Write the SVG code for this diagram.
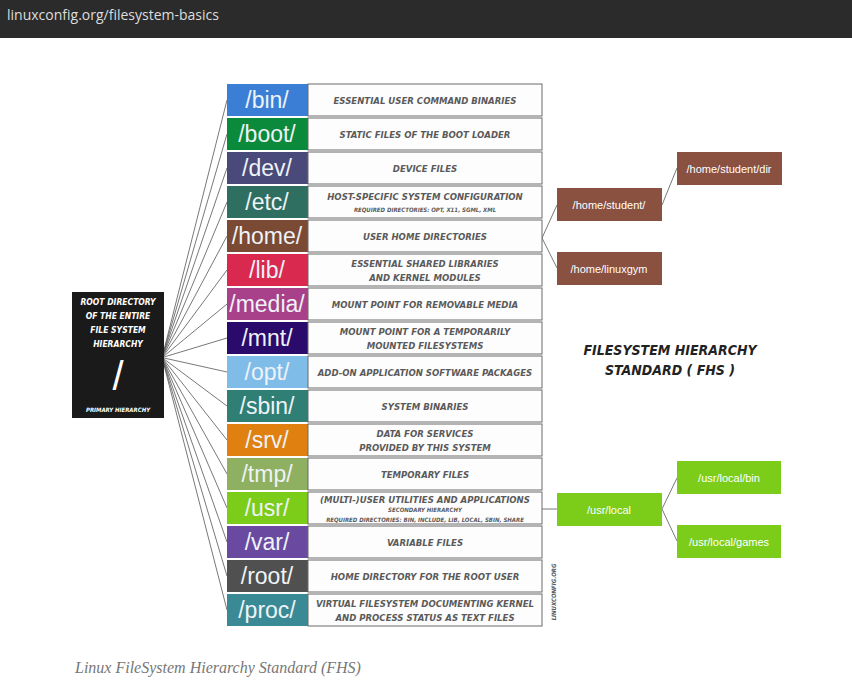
<svg xmlns="http://www.w3.org/2000/svg" width="852" height="697" viewBox="0 0 852 697">
<style>
.dn{font-family:"Liberation Sans",Arial,sans-serif;font-size:23px;fill:#eef3f8;text-anchor:middle}
.ds{font-family:"DejaVu Sans Condensed","Liberation Sans",sans-serif;font-weight:bold;font-style:italic;font-size:9.5px;fill:#5a5a5a;text-anchor:middle}
.sm{font-family:"DejaVu Sans Condensed","Liberation Sans",sans-serif;font-weight:bold;font-style:italic;font-size:6px;fill:#5a5a5a;text-anchor:middle}
.desc{fill:#fdfdfd;stroke:#6a6a6a;stroke-width:1}
.bx{font-family:"Liberation Sans",Arial,sans-serif;font-size:11px;fill:#fff;text-anchor:middle}
.cn line{stroke:#555;stroke-width:0.8}
.wt{font-family:"DejaVu Sans Condensed","Liberation Sans",sans-serif;font-weight:bold;font-style:italic;fill:#fff;text-anchor:middle}
</style>
<rect width="852" height="697" fill="#fff"/>
<rect width="852" height="38" fill="#2b2b2b"/>
<text x="7" y="20" font-family="Open Sans,Liberation Sans,sans-serif" font-size="14" fill="#ddd">linuxconfig.org/filesystem-basics</text>
<g class="cn">
<line x1="164" y1="350" x2="227" y2="100"/><line x1="164" y1="351" x2="227" y2="134"/><line x1="164" y1="352" x2="227" y2="168"/><line x1="164" y1="353" x2="227" y2="202"/><line x1="164" y1="354" x2="227" y2="236"/><line x1="164" y1="355" x2="227" y2="270"/><line x1="164" y1="356" x2="227" y2="304"/><line x1="164" y1="357" x2="227" y2="338"/><line x1="164" y1="358" x2="227" y2="372"/><line x1="164" y1="359" x2="227" y2="406"/><line x1="164" y1="360" x2="227" y2="440"/><line x1="164" y1="361" x2="227" y2="474"/><line x1="164" y1="362" x2="227" y2="508"/><line x1="164" y1="363" x2="227" y2="542"/><line x1="164" y1="364" x2="227" y2="576"/><line x1="164" y1="365" x2="227" y2="610"/>
<line x1="542" y1="238" x2="557" y2="205"/><line x1="542" y1="238" x2="557" y2="268"/><line x1="662" y1="205" x2="677" y2="168"/>
<line x1="542" y1="509" x2="557" y2="509"/><line x1="662" y1="509" x2="677" y2="478"/><line x1="662" y1="509" x2="677" y2="541"/>
</g>
<g id="root"><rect x="72" y="292" width="92" height="126" fill="#1a1a1a"/>
<text class="wt" font-size="8.5"><tspan x="118" y="305">ROOT DIRECTORY</tspan><tspan x="118" y="319">OF THE ENTIRE</tspan><tspan x="118" y="333">FILE SYSTEM</tspan><tspan x="118" y="347">HIERARCHY</tspan></text>
<text x="118" y="390" font-family="Liberation Sans,sans-serif" font-size="40" fill="#fff" text-anchor="middle">/</text>
<text class="wt" font-size="6" x="118" y="412">PRIMARY HIERARCHY</text></g>
<g id="bin"><rect x="227" y="84" width="81" height="32" fill="#3a7fd5"/><rect class="desc" x="308" y="84" width="234" height="32"/><text class="dn" x="267" y="108">/bin/</text><text class="ds" x="425" y="104">ESSENTIAL USER COMMAND BINARIES</text></g>
<g id="boot"><rect x="227" y="118" width="81" height="32" fill="#0a8a3a"/><rect class="desc" x="308" y="118" width="234" height="32"/><text class="dn" x="267" y="142">/boot/</text><text class="ds" x="425" y="138">STATIC FILES OF THE BOOT LOADER</text></g>
<g id="dev"><rect x="227" y="152" width="81" height="32" fill="#4a4a7a"/><rect class="desc" x="308" y="152" width="234" height="32"/><text class="dn" x="267" y="176">/dev/</text><text class="ds" x="425" y="172">DEVICE FILES</text></g>
<g id="etc"><rect x="227" y="186" width="81" height="32" fill="#2f6f62"/><rect class="desc" x="308" y="186" width="234" height="32"/><text class="dn" x="267" y="210">/etc/</text><text class="ds" x="425" y="200">HOST-SPECIFIC SYSTEM CONFIGURATION</text><text class="sm" x="425" y="212">REQUIRED DIRECTORIES: OPT, X11, SGML, XML</text></g>
<g id="home"><rect x="227" y="220" width="81" height="32" fill="#7a4a34"/><rect class="desc" x="308" y="220" width="234" height="32"/><text class="dn" x="267" y="244">/home/</text><text class="ds" x="425" y="240">USER HOME DIRECTORIES</text></g>
<g id="lib"><rect x="227" y="254" width="81" height="32" fill="#d9294f"/><rect class="desc" x="308" y="254" width="234" height="32"/><text class="dn" x="267" y="278">/lib/</text><text class="ds" x="425" y="267">ESSENTIAL SHARED LIBRARIES</text><text class="ds" x="425" y="281">AND KERNEL MODULES</text></g>
<g id="media"><rect x="227" y="288" width="81" height="32" fill="#a8408a"/><rect class="desc" x="308" y="288" width="234" height="32"/><text class="dn" x="267" y="312">/media/</text><text class="ds" x="425" y="308">MOUNT POINT FOR REMOVABLE MEDIA</text></g>
<g id="mnt"><rect x="227" y="322" width="81" height="32" fill="#2a0a6a"/><rect class="desc" x="308" y="322" width="234" height="32"/><text class="dn" x="267" y="346">/mnt/</text><text class="ds" x="425" y="335">MOUNT POINT FOR A TEMPORARILY</text><text class="ds" x="425" y="349">MOUNTED FILESYSTEMS</text></g>
<g id="opt"><rect x="227" y="356" width="81" height="32" fill="#7fbce8"/><rect class="desc" x="308" y="356" width="234" height="32"/><text class="dn" x="267" y="380">/opt/</text><text class="ds" x="425" y="376">ADD-ON APPLICATION SOFTWARE PACKAGES</text></g>
<g id="sbin"><rect x="227" y="390" width="81" height="32" fill="#2f7f75"/><rect class="desc" x="308" y="390" width="234" height="32"/><text class="dn" x="267" y="414">/sbin/</text><text class="ds" x="425" y="410">SYSTEM BINARIES</text></g>
<g id="srv"><rect x="227" y="424" width="81" height="32" fill="#e08010"/><rect class="desc" x="308" y="424" width="234" height="32"/><text class="dn" x="267" y="448">/srv/</text><text class="ds" x="425" y="437">DATA FOR SERVICES</text><text class="ds" x="425" y="451">PROVIDED BY THIS SYSTEM</text></g>
<g id="tmp"><rect x="227" y="458" width="81" height="32" fill="#8fb060"/><rect class="desc" x="308" y="458" width="234" height="32"/><text class="dn" x="267" y="482">/tmp/</text><text class="ds" x="425" y="478">TEMPORARY FILES</text></g>
<g id="usr"><rect x="227" y="492" width="81" height="32" fill="#7ccc1a"/><rect class="desc" x="308" y="492" width="234" height="32"/><text class="dn" x="267" y="516">/usr/</text><text class="ds" x="425" y="503">(MULTI-)USER UTILITIES AND APPLICATIONS</text><text class="sm" x="425" y="512">SECONDARY HIERARCHY</text><text class="sm" x="425" y="522">REQUIRED DIRECTORIES: BIN, INCLUDE, LIB, LOCAL, SBIN, SHARE</text></g>
<g id="var"><rect x="227" y="526" width="81" height="32" fill="#6a4aa0"/><rect class="desc" x="308" y="526" width="234" height="32"/><text class="dn" x="267" y="550">/var/</text><text class="ds" x="425" y="546">VARIABLE FILES</text></g>
<g id="rootdir"><rect x="227" y="560" width="81" height="32" fill="#505050"/><rect class="desc" x="308" y="560" width="234" height="32"/><text class="dn" x="267" y="584">/root/</text><text class="ds" x="425" y="580">HOME DIRECTORY FOR THE ROOT USER</text></g>
<g id="proc"><rect x="227" y="594" width="81" height="32" fill="#3a8a95"/><rect class="desc" x="308" y="594" width="234" height="32"/><text class="dn" x="267" y="618">/proc/</text><text class="ds" x="425" y="607">VIRTUAL FILESYSTEM DOCUMENTING KERNEL</text><text class="ds" x="425" y="621">AND PROCESS STATUS AS TEXT FILES</text></g>
<text class="sm" transform="translate(556,592) rotate(-90)" x="0" y="0">LINUXCONFIG.ORG</text>
<g id="homestudent"><rect x="557" y="188" width="105" height="33" fill="#8a5040"/><text class="bx" x="609" y="209">/home/student/</text></g>
<g id="studentdir"><rect x="677" y="152" width="105" height="33" fill="#8a5040"/><text class="bx" x="729" y="173">/home/student/dir</text></g>
<g id="linuxgym"><rect x="557" y="252" width="105" height="33" fill="#8a5040"/><text class="bx" x="609" y="273">/home/linuxgym</text></g>
<g id="usrlocal"><rect x="557" y="493" width="105" height="33" fill="#7ccc1a"/><text class="bx" x="609" y="514">/usr/local</text></g>
<g id="usrlocalbin"><rect x="677" y="461" width="104" height="33" fill="#7ccc1a"/><text class="bx" x="729" y="482">/usr/local/bin</text></g>
<g id="usrlocalgames"><rect x="677" y="525" width="104" height="33" fill="#7ccc1a"/><text class="bx" x="729" y="546">/usr/local/games</text></g>
<text font-family="DejaVu Sans Condensed,Liberation Sans,sans-serif" font-weight="bold" font-style="italic" font-size="14" fill="#222" text-anchor="middle"><tspan x="670" y="355">FILESYSTEM HIERARCHY</tspan><tspan x="670" y="375">STANDARD ( FHS )</tspan></text>
<text x="75" y="673" font-family="Liberation Serif,serif" font-style="italic" font-size="16" fill="#777">Linux FileSystem Hierarchy Standard (FHS)</text>
</svg>
